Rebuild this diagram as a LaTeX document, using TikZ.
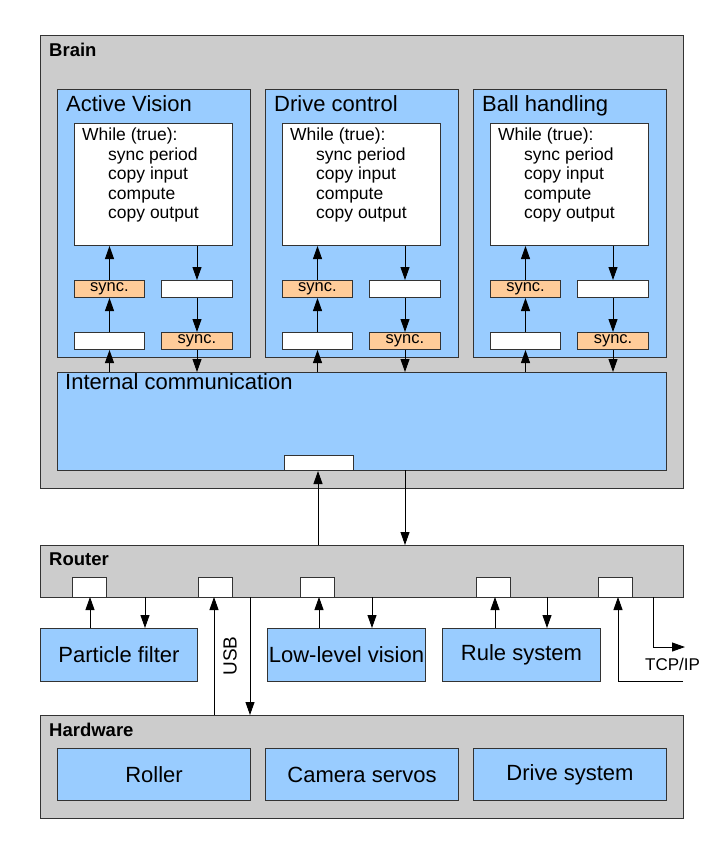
\documentclass[tikz,border=0pt]{standalone}
\usepackage{fontspec}
\setmainfont{Liberation Sans}
\usetikzlibrary{arrows.meta}
\definecolor{gr}{HTML}{CCCCCC}
\definecolor{bl}{HTML}{99CCFF}
\definecolor{orng}{HTML}{FFCC99}
\begin{document}
\begin{tikzpicture}[x=1pt,y=-1pt,
  frame/.style={draw=black!80,line width=1pt,anchor=north west,inner sep=0pt},
  grbox/.style={frame,fill=gr},
  blbox/.style={frame,fill=bl},
  whbox/.style={frame,fill=white},
  sybox/.style={frame,fill=orng,font=\fontsize{16.5}{18}\selectfont},
  ttl/.style={anchor=north west,inner sep=0pt,font=\bfseries\fontsize{18.5}{20}\selectfont},
  mttl/.style={anchor=north west,inner sep=0pt,font=\fontsize{22}{24}\selectfont},
  txt/.style={font=\fontsize{22}{24}\selectfont},
  arr/.style={line width=0.9pt,-{Triangle[length=13pt,width=9pt]}}]
\useasboundingbox (0,0) rectangle (720,854);
\fill[white] (0,0) rectangle (720,854);
% Brain
\node[grbox,minimum width=643pt,minimum height=453pt] (brain) at (40,35) {};
\node[ttl] (brainl) at (49,43) {Brain};
\node[blbox,minimum width=609pt,minimum height=98pt] (ic) at (57,372) {};
\node[mttl] (icl) at (65,373) {Internal communication};
\node[whbox,minimum width=69pt,minimum height=15pt] (icp) at (284,455) {};
\foreach \i/\x/\t in {1/57/Active Vision,2/265/Drive control,3/473/Ball handling}{
  \node[blbox,minimum width=193pt,minimum height=268pt] (m\i) at (\x,89) {};
  \node[mttl] (ml\i) at (\x+9,95) {\t};
  \node[whbox,minimum width=158pt,minimum height=122pt] (w\i) at (\x+17,123) {};
  \node[anchor=north west,align=left,inner sep=0pt,font=\fontsize{17.5}{19.5}\selectfont] (wt\i) at (\x+25,128)
    {While (true):\\\hspace{26pt}sync period\\\hspace{26pt}copy input\\\hspace{26pt}compute\\\hspace{26pt}copy output};
  \node[sybox,minimum width=70pt,minimum height=17pt] (a\i) at (\x+17,280) {sync.};
  \node[whbox,minimum width=71pt,minimum height=17pt] (b\i) at (\x+104,280) {};
  \node[whbox,minimum width=70pt,minimum height=17pt] (c\i) at (\x+17,332) {};
  \node[sybox,minimum width=71pt,minimum height=17pt] (d\i) at (\x+104,332) {sync.};
  \draw[arr] (c\i.south |- ic.north) -- (c\i.south);
  \draw[arr] (c\i.north) -- (a\i.south);
  \draw[arr] (a\i.north) -- (a\i.north |- w\i.south);
  \draw[arr] (b\i.north |- w\i.south) -- (b\i.north);
  \draw[arr] (b\i.south) -- (d\i.north);
  \draw[arr] (d\i.south) -- (d\i.south |- ic.north);
}
% Router
\node[grbox,minimum width=643pt,minimum height=52pt] (router) at (40,545) {};
\node[ttl] (routerl) at (49,553) {Router};
\draw[arr] (318,545) coordinate (bu) -- (bu |- icp.south);
\draw[arr] (405,470) coordinate (bd) -- (bd |- router.north);
\foreach \n/\x in {1/72,2/198,3/300,4/476,5/598}{
  \node[whbox,minimum width=34pt,minimum height=20pt] (p\n) at (\x,577) {};
}
\node[blbox,minimum width=157pt,minimum height=53pt] (pf) at (40,628) {};
\node[txt] at (pf.center) {Particle filter};
\node[blbox,minimum width=158pt,minimum height=53pt] (llv) at (267,628) {};
\node[txt] at (llv.center) {Low-level vision};
\node[blbox,minimum width=158pt,minimum height=53pt] (rs) at (442,628) {};
\node[txt] at (rs.center) {Rule system};
\draw[arr] (90,628) -- (90,597);
\draw[arr] (145,597) -- (145,628);
\draw[arr] (319,628) -- (319,597);
\draw[arr] (372,597) -- (372,628);
\draw[arr] (495,628) -- (495,597);
\draw[arr] (547,597) -- (547,628);
% Hardware
\node[grbox,minimum width=643pt,minimum height=103pt] (hw) at (40,715) {};
\node[ttl] (hwl) at (49,723) {Hardware};
\draw[arr] (214,715) -- (214,597);
\draw[arr] (250,597) -- (250,715);
\node[rotate=90,font=\fontsize{19}{21}\selectfont] (usb) at (230,656) {USB};
% TCP/IP
\draw[line width=0.9pt] (683,681) -- (618,681);
\draw[arr] (618,681) -- (618,597);
\draw[arr] (653,597) -- (653,647) -- (685,647);
\node[font=\fontsize{17}{19}\selectfont,anchor=west,inner sep=0pt] (tcp) at (645,664) {TCP/IP};
\foreach \n/\x/\t in {1/57/Roller,2/265/Camera servos,3/473/Drive system}{
  \node[blbox,minimum width=193pt,minimum height=52pt] (h\n) at (\x,748) {};
  \node[txt] at (h\n.center) {\t};
}
\end{tikzpicture}
\end{document}
